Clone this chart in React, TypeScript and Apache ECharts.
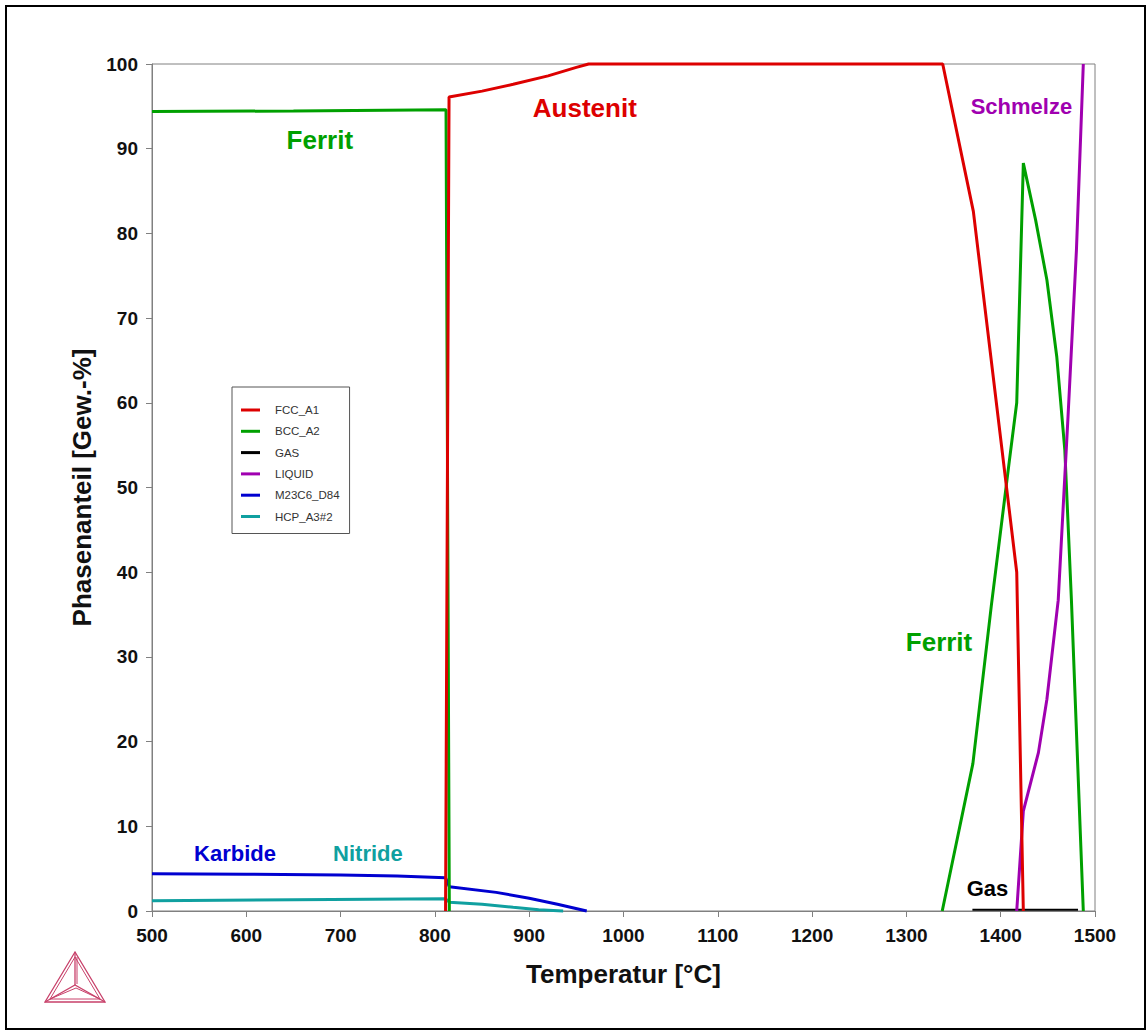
import React, { useEffect, useRef } from "react";
import * as echarts from "echarts";

const FONT = '"Liberation Sans", Arial, Helvetica, sans-serif';

const xMin = 500;
const xMax = 1500;
const xStep = 100;
const yMin = 0;
const yMax = 100;
const yStep = 10;

const seriesNames = ["FCC_A1", "BCC_A2", "GAS", "LIQUID", "M23C6_D84", "HCP_A3#2"];
const seriesColors = ["#dd0000", "#00a000", "#000000", "#a000b0", "#0000d0", "#10a0a0"];

// [Temperatur °C, Phasenanteil %]
const fccA1: [number, number][] = [
  [811.3, 0], [815, 96.1], [850, 96.8], [883, 97.6], [920, 98.6], [950, 99.6], [963, 100],
  [1338.5, 100], [1371, 82.6], [1417, 40], [1424, 0],
];
const bccA2Low: [number, number][] = [
  [500, 94.4], [650, 94.45], [811.8, 94.6], [815.3, 0],
];
const bccA2High: [number, number][] = [
  [1338, 0], [1370.5, 17.4], [1390, 36], [1409, 53], [1417, 60], [1424, 88.3],
  [1437, 81.6], [1449, 74.5], [1459.5, 65.4], [1468, 54.4], [1475, 36.7], [1487.6, 0],
];
const gasPhase: [number, number][] = [
  [1370, 0.15], [1482, 0.15],
];
const liquid: [number, number][] = [
  [1417, 0], [1424, 11.8], [1440, 18.7], [1449, 25], [1461, 36.7], [1471.4, 58.4],
  [1480.3, 78], [1487.6, 100],
];
const m23c6D84: [number, number][] = [
  [500, 4.4], [600, 4.35], [700, 4.24], [760, 4.12], [811.3, 3.93], [815.3, 2.87],
  [865, 2.2], [900, 1.5], [930, 0.8], [961, 0],
];
const hcpA3: [number, number][] = [
  [500, 1.22], [650, 1.32], [811.3, 1.45], [815.3, 1.03], [850, 0.8], [883, 0.43],
  [910, 0.15], [936, 0],
];

const annoTexts = ["Ferrit", "Austenit", "Schmelze", "Ferrit", "Karbide", "Nitride", "Gas"];
const annoT = [678, 959, 1422, 1334.6, 588, 729, 1386];
const annoP = [91.0, 94.8, 95.0, 31.8, 6.8, 6.8, 2.68];
const annoColors = ["#00a000", "#dd0000", "#a000b0", "#00a000", "#0000d0", "#10a0a0", "#000000"];
const annoSizes = [26, 26, 22, 26, 22, 22, 22];

const xTitle = "Temperatur [°C]";
const yTitle = "Phasenanteil [Gew.-%]";

export default function App() {
  const ref = useRef<HTMLDivElement>(null);
  useEffect(() => {
    if (!ref.current) return;
    const chart = echarts.init(ref.current, undefined, { renderer: "svg" });

    const lineSeries = (name: string, data: [number, number][], width = 3) => {
      const color = seriesColors[seriesNames.indexOf(name)];
      return {
        type: "line",
        name,
        data,
        showSymbol: false,
        symbol: "none",
        clip: false,
        color,
        lineStyle: { color, width },
        emphasis: { disabled: true },
      };
    };

    const logoColor = "#c8406a";
    chart.setOption({
      animation: false,
      backgroundColor: "#ffffff",
      grid: {
        left: 152,
        top: 64,
        right: 52,
        bottom: 123,
        show: true,
        borderColor: "#808080",
        borderWidth: 1,
        backgroundColor: "transparent",
      },
      legend: {
        data: seriesNames,
        orient: "vertical",
        left: 232,
        top: 387,
        padding: [16, 10, 10, 9],
        itemGap: 7.3,
        itemWidth: 19,
        itemHeight: 3,
        icon: "rect",
        borderColor: "#555555",
        borderWidth: 1,
        backgroundColor: "#ffffff",
        textStyle: {
          fontFamily: FONT,
          fontSize: 11.5,
          color: "#333333",
          lineHeight: 14,
          padding: [0, 0, 0, 10],
        },
        selectedMode: false,
      },
      xAxis: {
        type: "value",
        min: xMin,
        max: xMax,
        interval: xStep,
        name: xTitle,
        nameLocation: "middle",
        nameGap: 50,
        nameTextStyle: { fontFamily: FONT, fontSize: 26, fontWeight: "bold", color: "#111111" },
        axisLine: { show: true, onZero: false, lineStyle: { color: "#808080", width: 1 } },
        axisTick: { show: true, length: 6, lineStyle: { color: "#808080" } },
        axisLabel: {
          fontFamily: FONT, fontSize: 19, fontWeight: "bold", color: "#111111", margin: 15,
          formatter: (v: number) => String(v),
        },
        splitLine: { show: false },
      },
      yAxis: {
        type: "value",
        min: yMin,
        max: yMax,
        interval: yStep,
        name: yTitle,
        nameLocation: "middle",
        nameGap: 50,
        nameTextStyle: { fontFamily: FONT, fontSize: 26, fontWeight: "bold", color: "#111111" },
        axisLine: { show: true, lineStyle: { color: "#808080", width: 1 } },
        axisTick: { show: true, length: 6, lineStyle: { color: "#808080" } },
        axisLabel: {
          fontFamily: FONT, fontSize: 19, fontWeight: "bold", color: "#111111", margin: 14,
          formatter: (v: number) => String(v),
        },
        splitLine: { show: false },
      },
      series: [
        lineSeries("HCP_A3#2", hcpA3),
        lineSeries("M23C6_D84", m23c6D84),
        lineSeries("GAS", gasPhase, 2),
        lineSeries("BCC_A2", bccA2Low),
        lineSeries("BCC_A2", bccA2High),
        lineSeries("LIQUID", liquid),
        lineSeries("FCC_A1", fccA1),
        {
          type: "scatter",
          name: "annotations",
          symbolSize: 1,
          itemStyle: { color: "rgba(255,255,255,0)" },
          silent: true,
          clip: false,
          z: 10,
          label: {
            show: true,
            position: "inside",
            fontFamily: FONT,
            fontWeight: "bold",
            textBorderWidth: 0,
            textBorderColor: "transparent",
            opacity: 1,
          },
          data: annoTexts.map((t, i) => ({
            value: [annoT[i], annoP[i]],
            label: { formatter: t, color: annoColors[i], fontSize: annoSizes[i] },
          })),
        },
      ],
      graphic: [
        {
          type: "rect",
          shape: { x: 6, y: 6, width: 1139, height: 1023 },
          style: { fill: "none", stroke: "#000000", lineWidth: 2 },
          silent: true,
        },
        {
          type: "group",
          silent: true,
          children: [
            { type: "polygon", shape: { points: [[75, 952], [45, 1002], [105, 1002]] }, style: { fill: "none", stroke: logoColor, lineWidth: 1.3 } },
            { type: "polygon", shape: { points: [[75, 957], [50, 999], [100, 999]] }, style: { fill: "none", stroke: logoColor, lineWidth: 1 } },
            { type: "polyline", shape: { points: [[75, 952], [75, 985]] }, style: { stroke: logoColor, lineWidth: 1.3 } },
            { type: "polyline", shape: { points: [[77, 957], [77, 984]] }, style: { stroke: logoColor, lineWidth: 1 } },
            { type: "polyline", shape: { points: [[45, 1002], [75, 985], [105, 1002]] }, style: { fill: "none", stroke: logoColor, lineWidth: 1.3 } },
            { type: "polyline", shape: { points: [[50, 999], [76, 988], [100, 999]] }, style: { fill: "none", stroke: logoColor, lineWidth: 1 } },
          ],
        },
      ],
    });
    return () => chart.dispose();
  }, []);
  return (
    <div
      ref={ref}
      style={{ position: "absolute", left: 0, top: 0, width: 1147, height: 1034, background: "#fff" }}
    />
  );
}
